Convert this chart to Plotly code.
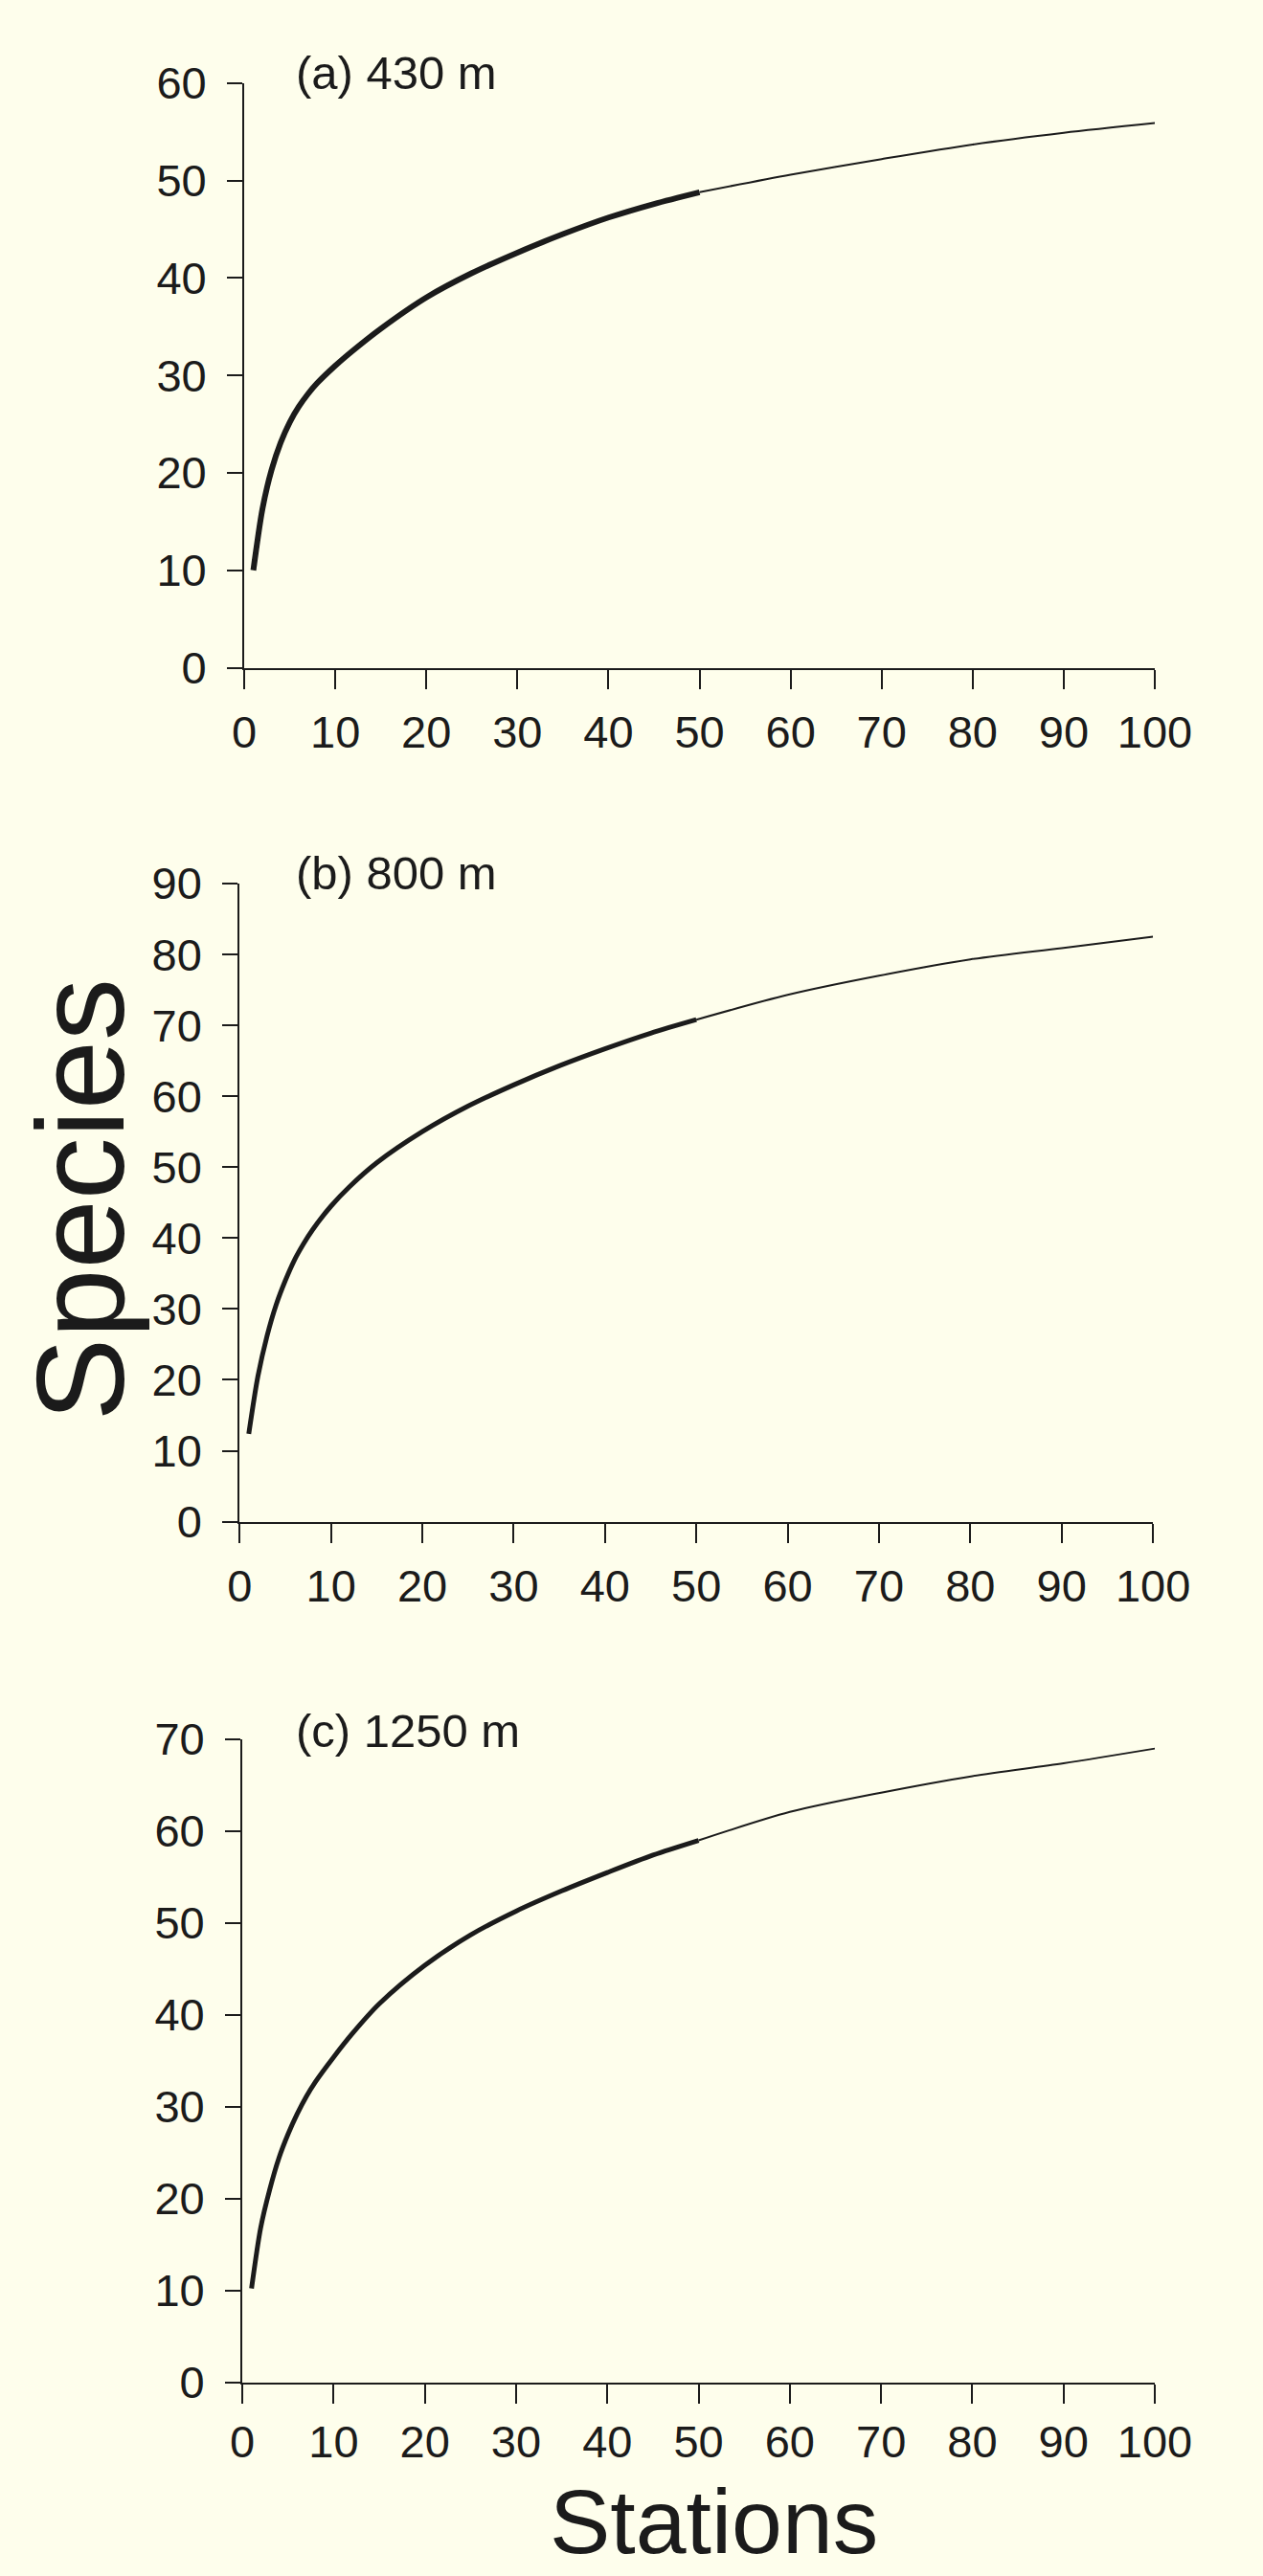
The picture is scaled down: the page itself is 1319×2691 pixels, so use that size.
import plotly.graph_objects as go

W, H = 1319, 2691

# ---- data ----
stations_obs = [1, 2, 3, 4, 5, 6, 7, 8, 10, 12, 15, 20, 25, 30, 35, 40, 45, 50]
stations_ext = [50, 60, 70, 80, 90, 100]

species_a_obs = [10.0, 16.3, 20.3, 23.1, 25.2, 26.8, 28.1, 29.2, 31.0, 32.6, 34.8, 38.0, 40.5, 42.6, 44.5, 46.2, 47.6, 48.8]
species_a_ext = [48.8, 50.6, 52.2, 53.7, 54.9, 55.9]

species_b_obs = [12.4, 20.5, 26.2, 30.6, 34.0, 36.9, 39.2, 41.2, 44.5, 47.2, 50.6, 55.0, 58.6, 61.6, 64.3, 66.7, 68.9, 70.8]
species_b_ext = [70.8, 74.3, 77.0, 79.3, 80.9, 82.5]

species_c_obs = [10.2, 16.8, 21.0, 24.4, 27.0, 29.2, 31.1, 32.7, 35.4, 37.9, 41.2, 45.4, 48.7, 51.3, 53.5, 55.5, 57.4, 59.0]
species_c_ext = [59.0, 62.1, 64.2, 66.0, 67.4, 69.0]

panel_titles = ["(a) 430 m", "(b) 800 m", "(c) 1250 m"]
y_max = [60, 90, 70]
x_ticks = list(range(0, 101, 10))

# ---- layout geometry (pixels) ----
panels = [
    dict(x0=252, x1=1242, ybot=684, ytop=61, title_y=50, thick=6, xstand=5),
    dict(x0=247, x1=1240, ybot=1594, ytop=914, title_y=903, thick=5, xstand=5),
    dict(x0=250, x1=1242, ybot=2511, ytop=1826, title_y=1817, thick=5, xstand=0),
]

obs = [species_a_obs, species_b_obs, species_c_obs]
ext = [species_a_ext, species_b_ext, species_c_ext]

ink = "#1b1b1b"
bg = "#FEFEEC"
font_family = "Liberation Sans, Arial, Helvetica, sans-serif"

fig = go.Figure()
layout = dict(
    width=W, height=H,
    margin=dict(l=0, r=0, t=0, b=0),
    paper_bgcolor=bg, plot_bgcolor=bg,
    showlegend=False,
    font=dict(family=font_family, color=ink),
    annotations=[],
)

for i, p in enumerate(panels):
    n = "" if i == 0 else str(i + 1)
    xa, ya = "x" + n, "y" + n
    fig.add_trace(go.Scatter(x=stations_obs, y=obs[i], mode="lines",
                             line=dict(color=ink, width=p["thick"], shape="spline", smoothing=0.8),
                             xaxis=xa, yaxis=ya, hoverinfo="skip"))
    fig.add_trace(go.Scatter(x=stations_ext, y=ext[i], mode="lines",
                             line=dict(color=ink, width=2, shape="spline", smoothing=0.8),
                             xaxis=xa, yaxis=ya, hoverinfo="skip"))
    layout["xaxis" + n] = dict(
        domain=[p["x0"] / W, p["x1"] / W], range=[0, 100], anchor=ya,
        tickvals=x_ticks, ticks="outside", ticklen=20, tickwidth=2, tickcolor=ink,
        showline=True, linewidth=2, linecolor=ink, showgrid=False, zeroline=False,
        tickfont=dict(size=47, color=ink, family=font_family), ticklabelstandoff=p["xstand"],
    )
    layout["yaxis" + n] = dict(
        domain=[1 - p["ybot"] / H, 1 - p["ytop"] / H], range=[0, y_max[i]], anchor=xa,
        tickvals=list(range(0, y_max[i] + 1, 10)), ticks="outside", ticklen=16, tickwidth=2,
        tickcolor=ink, showline=True, linewidth=2, linecolor=ink, showgrid=False, zeroline=False,
        tickfont=dict(size=47, color=ink, family=font_family), ticklabelstandoff=12,
    )
    layout["annotations"].append(dict(
        text=panel_titles[i], xref="paper", yref="paper",
        x=306 / W, y=1 - p["title_y"] / H, xanchor="left", yanchor="middle",
        showarrow=False, font=dict(size=49, color=ink, family=font_family),
    ))

layout["annotations"].append(dict(
    text="Species", xref="paper", yref="paper", x=74 / W, y=1 - 1251 / H,
    xanchor="center", yanchor="middle", textangle=-90, showarrow=False,
    font=dict(size=130, color=ink, family=font_family),
))
layout["annotations"].append(dict(
    text="Stations", xref="paper", yref="paper", x=763 / W, y=1 - 2659 / H,
    xanchor="center", yanchor="middle", showarrow=False,
    font=dict(size=95, color=ink, family=font_family),
))

fig.update_layout(**layout)
fig.write_html(
    "out.html",
    config={"displayModeBar": False},
    post_script="document.body.style.margin='0';document.body.style.backgroundColor='#FEFEEC';",
)
